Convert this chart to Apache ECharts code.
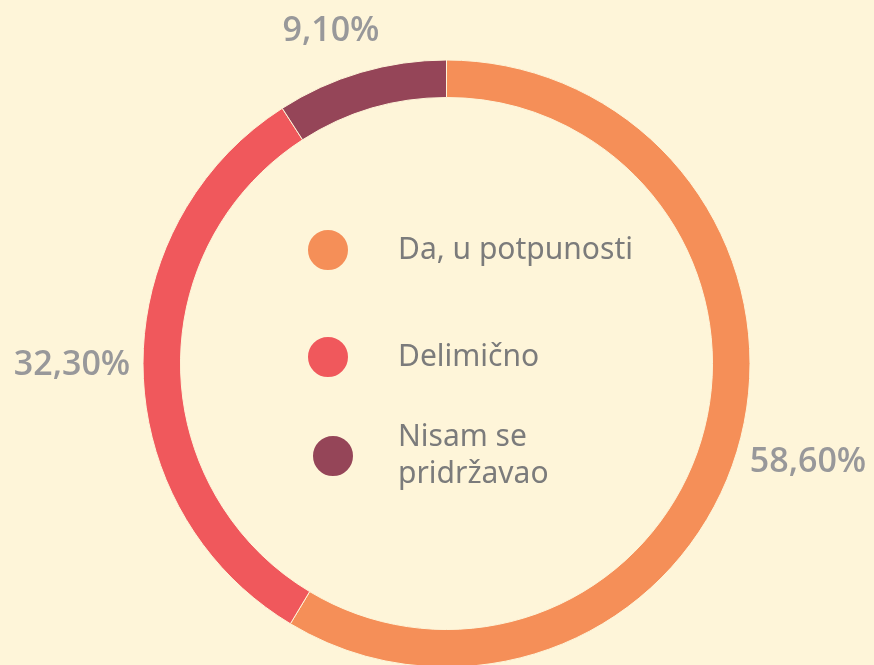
<!DOCTYPE html>
<html>
<head>
<meta charset="utf-8">
<script src="https://cdn.jsdelivr.net/npm/echarts@6/dist/echarts.min.js"></script>
<style>
html, body { margin: 0; padding: 0; background: #fef5d9; }
#pieChart { width: 874px; height: 665px; }
</style>
</head>
<body>
<div id="pieChart"></div>
<script type="text/javascript">
var answerNames = ['Da, u potpunosti', 'Delimično', 'Nisam se pridržavao'];
var answerValues = [58.6, 32.3, 9.1];
var answerColors = ['#f58f58', '#f0585c', '#954558'];

// where the percentage labels sit (label centre)
var labelPos = [[808, 462], [72, 365], [331, 31]];

var chart = echarts.init(document.getElementById('pieChart'));

function makeLegend(i, left, top, pad) {
    return {
        orient: 'vertical',
        left: left,
        top: top,
        padding: 0,
        icon: 'circle',
        itemWidth: 42,
        itemHeight: 42,
        selectedMode: false,
        data: [answerNames[i]],
        formatter: function (name) {
            return name === 'Nisam se pridržavao' ? 'Nisam se\npridržavao' : name;
        },
        textStyle: {
            fontFamily: 'Noto Sans',
            fontSize: 30,
            lineHeight: 37,
            color: '#7b7b7b',
            padding: [0, 0, 0, pad]
        }
    };
}

var pieData = [];
for (let i = 0; i < answerNames.length; i++) {
    pieData.push({
        name: answerNames[i],
        value: answerValues[i],
        itemStyle: { color: answerColors[i] }
    });
}

chart.setOption({
    backgroundColor: '#fef5d9',
    animation: false,
    legend: [
        makeLegend(0, 306, 228, 44),
        makeLegend(1, 306, 335, 44),
        makeLegend(2, 311, 419, 39)
    ],
    series: [{
        type: 'pie',
        center: [446.5, 363.5],
        radius: [266, 303.5],
        startAngle: 90,
        clockwise: true,
        avoidLabelOverlap: false,
        itemStyle: { borderColor: '#fef5d9', borderWidth: 1 },
        emphasis: { disabled: true },
        label: {
            show: true,
            position: 'outside',
            formatter: function (p) {
                return p.value.toFixed(2).replace('.', ',') + '%';
            },
            fontFamily: 'Open Sans',
            fontWeight: 600,
            fontSize: 34,
            color: '#98989a'
        },
        labelLine: { show: false },
        labelLayout: function (params) {
            var pos = labelPos[params.dataIndex];
            return { x: pos[0], y: pos[1], align: 'center', verticalAlign: 'middle' };
        },
        data: pieData
    }]
});
</script>
</body>
</html>
